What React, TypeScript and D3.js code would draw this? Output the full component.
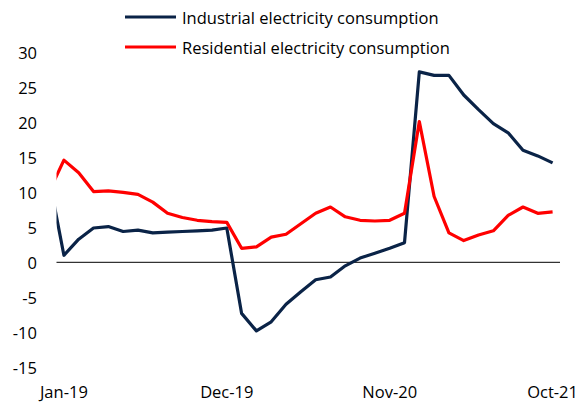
import React from "react";
import * as d3 from "d3";

const months = [
  "Dec-18",
  "Jan-19", "Feb-19", "Mar-19", "Apr-19", "May-19", "Jun-19", "Jul-19", "Aug-19", "Sep-19", "Oct-19", "Nov-19", "Dec-19",
  "Jan-20", "Feb-20", "Mar-20", "Apr-20", "May-20", "Jun-20", "Jul-20", "Aug-20", "Sep-20", "Oct-20", "Nov-20", "Dec-20",
  "Jan-21", "Feb-21", "Mar-21", "Apr-21", "May-21", "Jun-21", "Jul-21", "Aug-21", "Sep-21", "Oct-21",
];

const industrial = [
  12.0,
  1.0, 3.3, 4.9, 5.1, 4.4, 4.6, 4.2, 4.3, 4.4, 4.5, 4.6, 4.9,
  -7.3, -9.8, -8.5, -6.0, -4.2, -2.5, -2.1, -0.5, 0.6, 1.3, 2.0, 2.8,
  27.2, 26.7, 26.7, 23.9, 21.8, 19.8, 18.5, 16.0, 15.2, 14.2,
];

const residential = [
  10.1,
  14.6, 12.8, 10.1, 10.2, 10.0, 9.7, 8.6, 7.0, 6.4, 6.0, 5.8, 5.7,
  2.0, 2.2, 3.6, 4.0, 5.5, 7.0, 7.9, 6.5, 6.0, 5.9, 6.0, 7.0,
  20.1, 9.4, 4.2, 3.1, 3.9, 4.5, 6.7, 7.9, 7.0, 7.2,
];

const yTicks = [30, 25, 20, 15, 10, 5, 0, -5, -10, -15];
const xTickLabels = ["Jan-19", "Dec-19", "Nov-20", "Oct-21"];

const seriesNames = ["Industrial electricity consumption", "Residential electricity consumption"];
const seriesColors = ["#0a2347", "#ff0000"];

const W = 579;
const H = 402;
const left = 56.5;
const right = 560;
const FONT = "'Open Sans', Lato, sans-serif";
const FS = 16.5;

export default function App() {
  // index 0 = Jan-19; Dec-18 sits at -1 (partly clipped)
  const idx = months.map((_, i) => i - 1);
  const x = d3.scaleLinear().domain([-0.5, 33.5]).range([left, right]);
  const y = d3.scaleLinear().domain([-15, 30]).range([367.3, 52.3]);

  const line = d3
    .line<number>()
    .x((_, i) => x(idx[i]))
    .y((d) => y(d));

  const series = [industrial, residential];

  return (
    <svg
      width={W}
      height={H}
      style={{ position: "absolute", left: 0, top: 0, background: "#fff" }}
      fontFamily={FONT}
    >
      <defs>
        <clipPath id="plot">
          <rect x={left} y={0} width={right - left} height={H} />
        </clipPath>
      </defs>
      {/* y tick labels */}
      {yTicks.map((t) => (
        <text key={t} x={37} y={y(t)} textAnchor="end" dominantBaseline="central" fontSize={FS} fill="#000">
          {t}
        </text>
      ))}
      {/* x tick labels */}
      {xTickLabels.map((lab) => {
        const i = months.indexOf(lab) - 1;
        return (
          <text key={lab} x={x(i)} y={391} textAnchor="middle" dominantBaseline="central" fontSize={FS} fill="#000">
            {lab}
          </text>
        );
      })}
      {/* zero line */}
      <line x1={left} x2={right} y1={y(0)} y2={y(0)} stroke="#000" strokeWidth={1} />
      {/* series */}
      <g clipPath="url(#plot)">
        {series.map((s, k) => (
          <path
            key={k}
            d={line(s) || ""}
            fill="none"
            stroke={seriesColors[k]}
            strokeWidth={3.2}
            strokeLinejoin="round"
          />
        ))}
      </g>
      {/* legend */}
      {seriesNames.map((n, k) => (
        <g key={n} transform={`translate(0, ${17 + k * 30})`}>
          <line x1={125} x2={176} y1={0} y2={0} stroke={seriesColors[k]} strokeWidth={3.2} />
          <text x={182} y={0} dominantBaseline="central" fontSize={FS} fill="#000">
            {n}
          </text>
        </g>
      ))}
    </svg>
  );
}
